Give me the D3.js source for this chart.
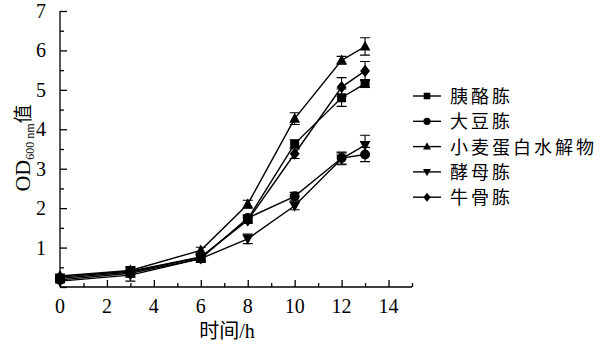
<!DOCTYPE html>
<html>
<head>
<meta charset="utf-8">
<script src="https://cdn.jsdelivr.net/npm/d3@7"></script>
<style>
body { margin: 0; background: #fff; }
text { fill: #000; }
</style>
</head>
<body>
<svg id="chart" width="607" height="352"></svg>
<script>
// 时间点
var hours = [0, 3, 6, 8, 10, 12, 13];
var names = ["胰酪胨", "大豆胨", "小麦蛋白水解物", "酵母胨", "牛骨胨"];
var symbols = ["square", "circle", "triangle", "triangleDown", "diamond"];

// OD600 均值
var casein = [0.22, 0.38, 0.75, 1.72, 3.63, 4.80, 5.16];
var soybean = [0.18, 0.35, 0.72, 1.75, 2.30, 3.27, 3.36];
var wheat = [0.28, 0.42, 0.93, 2.10, 4.27, 5.75, 6.10];
var yeast = [0.15, 0.30, 0.72, 1.22, 2.06, 3.25, 3.60];
var bone = [0.25, 0.40, 0.76, 1.69, 3.38, 5.07, 5.48];

// 误差
var caseinErr = [0.05, 0.12, 0.08, 0.08, 0.1, 0.22, 0.1];
var soybeanErr = [0.05, 0.1, 0.08, 0.08, 0.1, 0.15, 0.18];
var wheatErr = [0.05, 0.1, 0.08, 0.1, 0.15, 0.1, 0.22];
var yeastErr = [0.05, 0.15, 0.1, 0.12, 0.1, 0.15, 0.25];
var boneErr = [0.05, 0.1, 0.1, 0.08, 0.12, 0.24, 0.24];

var xTicks = [0, 2, 4, 6, 8, 10, 12, 14];
var yTicks = [1, 2, 3, 4, 5, 6, 7];

var seriesVals = [casein, soybean, wheat, yeast, bone];
var seriesErr = [caseinErr, soybeanErr, wheatErr, yeastErr, boneErr];

var svg = d3.select("#chart");
var x = d3.scaleLinear().domain([0, 15]).range([60, 412]);
var y = d3.scaleLinear().domain([0, 7]).range([287, 11]);

var serif = "'Liberation Serif', 'Times New Roman', serif";
var cjk = "'Noto Sans CJK SC', sans-serif";

function marker(sel, type, s) {
	if (type == "square") {
		sel.append("rect").attr("x", -s).attr("y", -s).attr("width", 2 * s).attr("height", 2 * s);
	} else if (type == "circle") {
		sel.append("circle").attr("r", s * 1.1);
	} else if (type == "triangle") {
		sel.append("path").attr("d", "M0," + (-s * 1.3) + "L" + (s * 1.2) + "," + (s * 0.9) + "L" + (-s * 1.2) + "," + (s * 0.9) + "Z");
	} else if (type == "triangleDown") {
		sel.append("path").attr("d", "M0," + (s * 1.3) + "L" + (s * 1.2) + "," + (-s * 0.9) + "L" + (-s * 1.2) + "," + (-s * 0.9) + "Z");
	} else {
		sel.append("path").attr("d", "M0," + (-s * 1.35) + "L" + (s * 1.1) + ",0L0," + (s * 1.35) + "L" + (-s * 1.1) + ",0Z");
	}
}

// 坐标轴
var xAxis = d3.axisBottom(x).tickValues(d3.range(0, 16, 1)).tickSize(-7).tickFormat("");
var gx = svg.append("g").attr("transform", "translate(0,287)").call(xAxis);
gx.selectAll(".tick line").attr("y2", (d) => d % 2 == 0 ? -7 : -4);
gx.select(".domain").attr("d", "M60,0H412");

var yAxis = d3.axisLeft(y).tickValues(d3.range(0, 7.5, 0.5)).tickSize(-7).tickFormat("");
var gy = svg.append("g").attr("transform", "translate(60,0)").call(yAxis);
gy.selectAll(".tick line").attr("x2", (d) => d % 1 == 0 ? 7 : 4);
gy.select(".domain").attr("d", "M0,11V287");
svg.selectAll(".domain, .tick line").attr("stroke", "#000").attr("stroke-width", 1.3);

svg.append("g").selectAll("text").data(xTicks).enter().append("text")
	.attr("x", d => x(d)).attr("y", 313)
	.attr("text-anchor", "middle").style("font-family", serif).style("font-size", "20px")
	.text(d => d);
svg.append("g").selectAll("text").data([0].concat(yTicks)).enter().append("text")
	.attr("x", 46).attr("y", d => y(d) + 7)
	.attr("text-anchor", "end").style("font-family", serif).style("font-size", "20px")
	.text(d => d == 0 ? "" : d);

// 标题
svg.append("text").attr("x", 227).attr("y", 338).attr("text-anchor", "middle")
	.style("font-size", "20px")
	.html("<tspan style=\"font-family:" + cjk + "\">时间</tspan><tspan style=\"font-family:" + serif + "\">/h</tspan>");
var yl = svg.append("text").attr("transform", "translate(30,148) rotate(-90)").attr("text-anchor", "middle");
yl.append("tspan").style("font-family", serif).style("font-size", "22px").text("OD");
yl.append("tspan").style("font-family", serif).style("font-size", "12px").attr("dy", 4).text("600 nm");
yl.append("tspan").style("font-family", cjk).style("font-size", "19px").attr("dy", -4).text("值");

// 线和点
var line = d3.line().x((d, i) => x(hours[i])).y(d => y(d));
seriesVals.forEach((vals, k) => {
	var g = svg.append("g");
	g.append("path").attr("d", line(vals)).attr("fill", "none").attr("stroke", "#000").attr("stroke-width", 1.4);
	vals.forEach((v, i) => {
		var e = seriesErr[k][i];
		var cx = x(hours[i]);
		g.append("path")
			.attr("d", "M" + cx + "," + y(v + e) + "V" + y(v - e) + "M" + (cx - 5) + "," + y(v + e) + "H" + (cx + 5) + "M" + (cx - 5) + "," + y(v - e) + "H" + (cx + 5))
			.attr("stroke", "#000").attr("stroke-width", 1.1).attr("fill", "none");
		var m = g.append("g").attr("transform", "translate(" + cx + "," + y(v) + ")");
		marker(m, symbols[k], 4.5);
	});
});

// 图例
names.forEach((n, k) => {
	var ly = 96 + k * 25.3;
	svg.append("line").attr("x1", 413).attr("x2", 441).attr("y1", ly).attr("y2", ly).attr("stroke", "#000").attr("stroke-width", 1.4);
	var m = svg.append("g").attr("transform", "translate(427," + ly + ")");
	marker(m, symbols[k], 3.3);
	svg.append("text").attr("x", 450).attr("y", ly + 7).style("font-family", cjk).style("font-size", "18px")
		.style("letter-spacing", "3px").text(n);
});
</script>
</body>
</html>
